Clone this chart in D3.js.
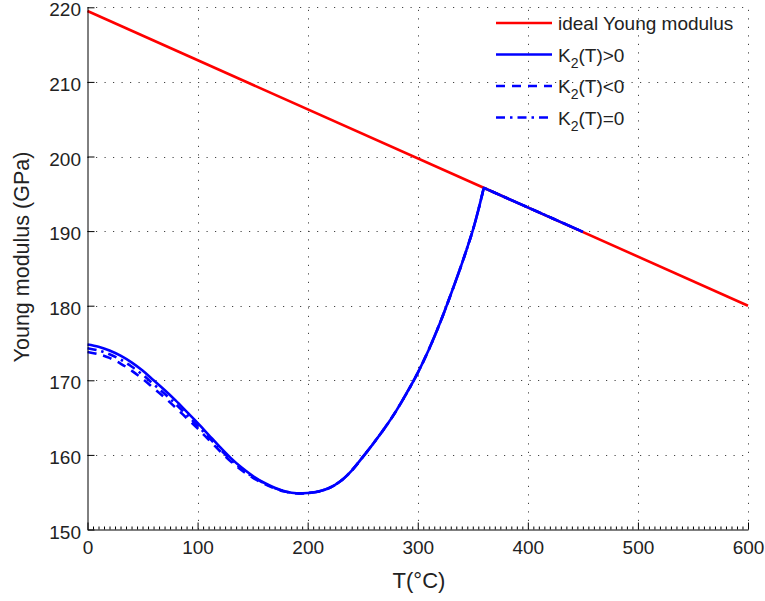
<!DOCTYPE html>
<html>
<head>
<meta charset="utf-8">
<script src="https://cdn.jsdelivr.net/npm/d3@7"></script>
<style>
    body { margin: 0; background: #fff; }
    text { font-family: "Liberation Sans", Arial, sans-serif; fill: #222; }
</style>
</head>
<body>
<svg id="chart" width="765" height="601"></svg>
<script>
// temperatures (°C) and moduli (GPa)
const temps = [0, 10, 20, 30, 40, 50, 60, 70, 80, 90, 100, 110, 120, 130, 140, 150, 160, 170, 180, 190,
    200, 210, 220, 230, 240, 250, 260, 270, 280, 290, 300, 310, 320, 330, 340, 345, 350, 355, 360, 450];
const modK2Pos = [174.8, 174.5, 174.0, 173.3, 172.4, 171.3, 170.0, 168.7, 167.3, 165.8, 164.3, 162.7, 161.1, 159.6, 158.3, 157.2, 156.3, 155.6, 155.1, 154.85,
    154.9, 155.1, 155.6, 156.5, 157.9, 159.7, 161.6, 163.6, 165.8, 168.3, 171.0, 174.1, 177.6, 181.5, 185.6, 187.8, 190.1, 192.8, 195.8, 189.9];
const modK2Neg = [173.8, 173.5, 173.0, 172.25, 171.3, 170.2, 168.95, 167.7, 166.35, 164.95, 163.55, 162.05, 160.55, 159.15, 157.95, 156.95, 156.15, 155.5, 155.05, 154.85,
    154.9, 155.1, 155.6, 156.5, 157.9, 159.7, 161.6, 163.6, 165.8, 168.3, 171.0, 174.1, 177.6, 181.5, 185.6, 187.8, 190.1, 192.8, 195.8, 189.9];
const modK2Zero = [174.3, 174.0, 173.5, 172.78, 171.85, 170.75, 169.48, 168.2, 166.83, 165.38, 163.93, 162.38, 160.83, 159.38, 158.13, 157.08, 156.23, 155.55, 155.08, 154.85,
    154.9, 155.1, 155.6, 156.5, 157.9, 159.7, 161.6, 163.6, 165.8, 168.3, 171.0, 174.1, 177.6, 181.5, 185.6, 187.8, 190.1, 192.8, 195.8, 189.9];

const idealTemps = [0, 600];
const idealModulus = [219.5, 180.0];

const xTickValues = [0, 100, 200, 300, 400, 500, 600];
const yTickValues = [150, 160, 170, 180, 190, 200, 210, 220];

const legendMain = [`ideal Young modulus`, `K`, `K`, `K`];
const legendSub = [``, `2`, `2`, `2`];
const legendRest = [``, `(T)>0`, `(T)<0`, `(T)=0`];

const red = `#ff0000`;
const blue = `#0000ff`;
const dashPatterns = [null, null, `9,7`, `9,5,2.5,5`];
const lineColors = [red, blue, blue, blue];

const svg = d3.select(`#chart`);

const x = d3.scaleLinear()
    .domain([0, 600])
    .range([87.5, 748]);

const y = d3.scaleLinear()
    .domain([150, 220])
    .range([529.5, 7.3]);

// dotted grid
const grid = svg.append(`g`)
    .attr(`stroke`, `#444`)
    .attr(`stroke-width`, 1)
    .attr(`stroke-dasharray`, `1.2,7.3`);

grid.selectAll(`.gx`)
    .data(xTickValues.slice(1))
    .enter().append(`line`)
    .attr(`x1`, d => Math.round(x(d)) + 0.5)
    .attr(`x2`, d => Math.round(x(d)) + 0.5)
    .attr(`y1`, y(150))
    .attr(`y2`, y(220));

grid.selectAll(`.gy`)
    .data(yTickValues.slice(1))
    .enter().append(`line`)
    .attr(`y1`, d => Math.round(y(d)) + 0.5)
    .attr(`y2`, d => Math.round(y(d)) + 0.5)
    .attr(`x1`, x(0))
    .attr(`x2`, x(600));

const line = d3.line()
    .x(d => x(d[0]))
    .y(d => y(d[1]));

const smoothLine = d3.line()
    .curve(d3.curveCatmullRom.alpha(0.5))
    .x(d => x(d[0]))
    .y(d => y(d[1]));

svg.append(`path`)
    .datum(idealTemps.map((t, i) => [t, idealModulus[i]]))
    .attr(`fill`, `none`)
    .attr(`stroke`, red)
    .attr(`stroke-width`, 2.6)
    .attr(`d`, line);

// curved part up to the peak, then the straight stretch along the ideal line
const peakIndex = temps.indexOf(360);
const series = [modK2Pos, modK2Neg, modK2Zero];
series.forEach((values, i) => {
    const pts = temps.map((t, j) => [t, values[j]]);
    const path = smoothLine(pts.slice(0, peakIndex + 1)) + line(pts.slice(peakIndex)).replace(/^M/, `L`);
    svg.append(`path`)
        .attr(`fill`, `none`)
        .attr(`stroke`, blue)
        .attr(`stroke-width`, 2.6)
        .attr(`stroke-linejoin`, `round`)
        .attr(`stroke-dasharray`, dashPatterns[i + 1])
        .attr(`d`, path);
});

// axes
const xAxis = d3.axisBottom(x)
    .tickValues(xTickValues)
    .tickSizeInner(-7)
    .tickSizeOuter(0)
    .tickPadding(11);

const xMinor = d3.axisBottom(x)
    .tickValues(d3.range(0, 601, 5).filter(d => d % 100 !== 0))
    .tickSize(-3)
    .tickFormat(``);

const yAxis = d3.axisLeft(y)
    .tickValues(yTickValues)
    .tickSizeInner(-7)
    .tickSizeOuter(0)
    .tickPadding(6.5);

svg.append(`g`)
    .attr(`transform`, `translate(0, ${y(150)})`)
    .call(xMinor)
    .call(g => g.select(`.domain`).remove());

const gx = svg.append(`g`)
    .attr(`transform`, `translate(0, ${y(150)})`)
    .call(xAxis);

const gy = svg.append(`g`)
    .attr(`transform`, `translate(${x(0)}, 0)`)
    .call(yAxis);

[gx, gy].forEach(g => {
    g.attr(`font-size`, 19).attr(`font-family`, null);
    g.selectAll(`text`).attr(`fill`, `#222`);
});
gy.selectAll(`text`).attr(`dy`, `0.45em`);

svg.append(`text`)
    .attr(`x`, 419)
    .attr(`y`, 588)
    .attr(`text-anchor`, `middle`)
    .attr(`font-size`, 22)
    .text(`T(°C)`);

svg.append(`text`)
    .attr(`transform`, `translate(29, 257) rotate(-90)`)
    .attr(`text-anchor`, `middle`)
    .attr(`font-size`, 21.5)
    .text(`Young modulus (GPa)`);

// legend
const legend = svg.append(`g`);
legendMain.forEach((label, i) => {
    const rowY = 23 + i * 31.5;
    legend.append(`line`)
        .attr(`x1`, 496)
        .attr(`x2`, 552)
        .attr(`y1`, rowY)
        .attr(`y2`, rowY)
        .attr(`stroke`, lineColors[i])
        .attr(`stroke-width`, 2.6)
        .attr(`stroke-dasharray`, dashPatterns[i]);
    const t = legend.append(`text`)
        .attr(`x`, 558)
        .attr(`y`, rowY + 7)
        .attr(`font-size`, 19);
    t.append(`tspan`).text(label);
    if (legendSub[i]) {
        t.append(`tspan`).attr(`font-size`, 14).attr(`dy`, 6).text(legendSub[i]);
        t.append(`tspan`).attr(`dy`, -6).text(legendRest[i]);
    }
});
</script>
</body>
</html>
